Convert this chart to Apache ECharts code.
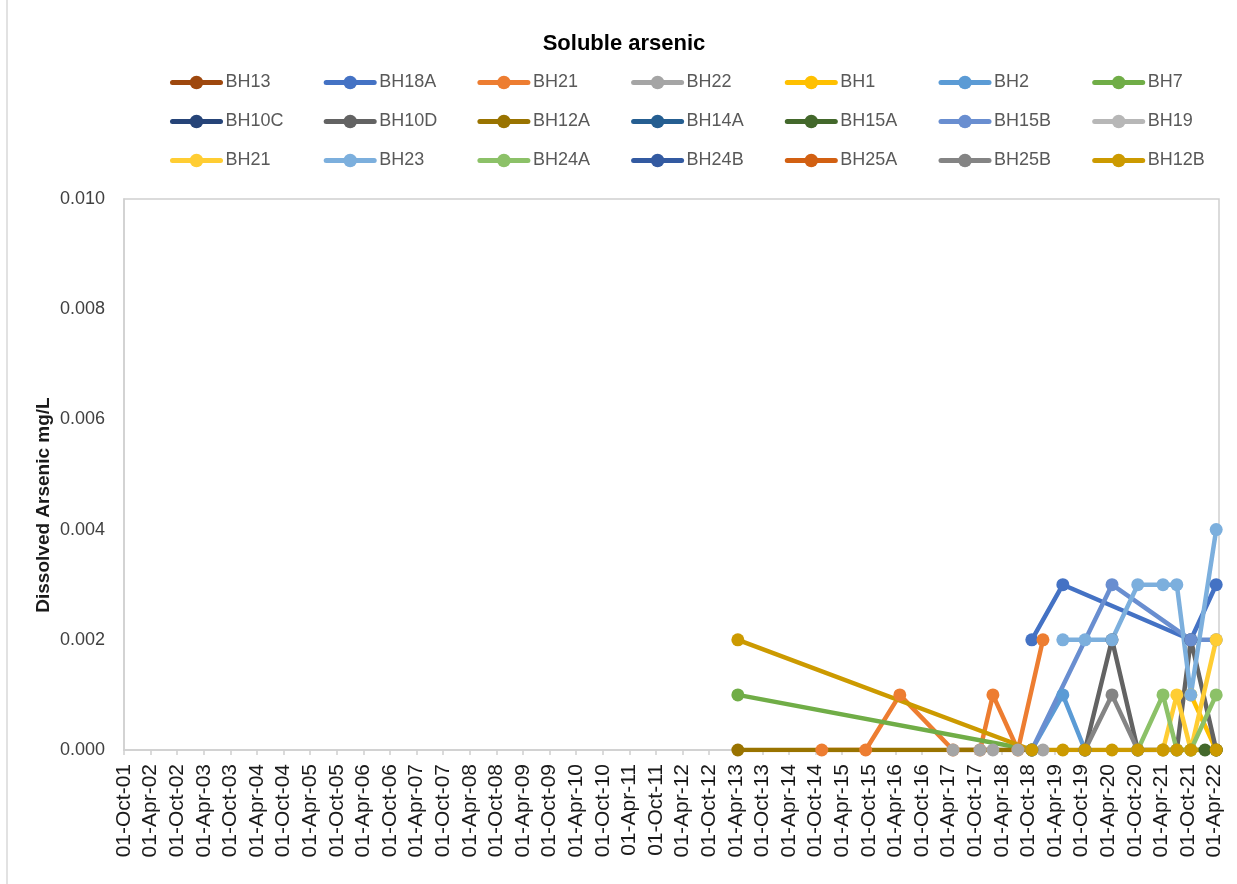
<!DOCTYPE html>
<html>
<head>
<meta charset="utf-8">
<title>Soluble arsenic</title>
<script src="https://cdn.jsdelivr.net/npm/echarts@6/dist/echarts.min.js"></script>
<style>
  html, body { margin: 0; padding: 0; background: #fff; }
  #chart { width: 1237px; height: 884px; }
</style>
</head>
<body>
<div id="chart"></div>
<script>
// Sampling results, dissolved arsenic (mg/L), one pair of arrays per borehole.
// Boreholes with no plotted results keep empty arrays.
const bh13Dates = [];
const bh13Values = [];

const bh18aDates = ['2018-10-25', '2019-05-25', '2021-10-21', '2022-04-12'];
const bh18aValues = [0.002, 0.003, 0.002, 0.003];

const bh21Dates = ['2014-11-13', '2015-09-10', '2016-05-01', '2017-05-01', '2017-11-04', '2018-02-01', '2018-07-21', '2019-01-10'];
const bh21Values = [0, 0, 0.001, 0, 0, 0.001, 0, 0.002];

const bh22Dates = ['2017-05-01', '2017-11-04', '2018-02-01', '2018-07-21', '2019-01-10'];
const bh22Values = [0, 0, 0, 0, 0];

const bh1Dates = ['2021-10-21', '2022-04-12'];
const bh1Values = [0.001, 0];

const bh2Dates = ['2018-10-25', '2019-05-25', '2019-10-25'];
const bh2Values = [0, 0.001, 0];

const bh7Dates = ['2013-04-15', '2018-10-25'];
const bh7Values = [0.001, 0];

const bh10cDates = [];
const bh10cValues = [];

const bh10dDates = ['2019-10-25', '2020-04-27', '2020-10-22', '2021-04-12', '2021-07-16', '2021-10-21', '2022-04-12'];
const bh10dValues = [0, 0.002, 0, 0, 0, 0.002, 0];

const bh12aDates = ['2013-04-15', '2018-10-25'];
const bh12aValues = [0, 0];

const bh14aDates = [];
const bh14aValues = [];

const bh15aDates = ['2021-10-21', '2022-01-27', '2022-04-12'];
const bh15aValues = [0, 0, 0];

const bh15bDates = ['2018-10-25', '2020-04-27', '2021-10-21', '2022-04-12'];
const bh15bValues = [0, 0.003, 0.002, 0.002];

const bh19Dates = [];
const bh19Values = [];

const bh21bDates = ['2021-04-12', '2021-07-16', '2021-10-21', '2022-04-12'];
const bh21bValues = [0, 0.001, 0, 0.002];

const bh23Dates = ['2019-05-25', '2019-10-25', '2020-04-27', '2020-10-22', '2021-04-12', '2021-07-16', '2021-10-21', '2022-04-12'];
const bh23Values = [0.002, 0.002, 0.002, 0.003, 0.003, 0.003, 0.001, 0.004];

const bh24aDates = ['2020-10-22', '2021-04-12', '2021-07-16', '2021-10-21', '2022-04-12'];
const bh24aValues = [0, 0.001, 0, 0, 0.001];

const bh24bDates = [];
const bh24bValues = [];

const bh25aDates = [];
const bh25aValues = [];

const bh25bDates = ['2019-10-25', '2020-04-27', '2020-10-22'];
const bh25bValues = [0, 0.001, 0];

const bh12bDates = ['2013-04-15', '2018-10-25', '2019-05-25', '2019-10-25', '2020-04-27', '2020-10-22', '2021-04-12', '2021-07-16', '2021-10-21', '2022-04-12'];
const bh12bValues = [0.002, 0, 0, 0, 0, 0, 0, 0, 0, 0];

// Legend labels in plotting order (BH21 appears twice, as in the source workbook).
const seriesLabels = ['BH13', 'BH18A', 'BH21', 'BH22', 'BH1', 'BH2', 'BH7',
                      'BH10C', 'BH10D', 'BH12A', 'BH14A', 'BH15A', 'BH15B', 'BH19',
                      'BH21', 'BH23', 'BH24A', 'BH24B', 'BH25A', 'BH25B', 'BH12B'];
const seriesDates = [bh13Dates, bh18aDates, bh21Dates, bh22Dates, bh1Dates, bh2Dates, bh7Dates,
                     bh10cDates, bh10dDates, bh12aDates, bh14aDates, bh15aDates, bh15bDates, bh19Dates,
                     bh21bDates, bh23Dates, bh24aDates, bh24bDates, bh25aDates, bh25bDates, bh12bDates];
const seriesValues = [bh13Values, bh18aValues, bh21Values, bh22Values, bh1Values, bh2Values, bh7Values,
                      bh10cValues, bh10dValues, bh12aValues, bh14aValues, bh15aValues, bh15bValues, bh19Values,
                      bh21bValues, bh23Values, bh24aValues, bh24bValues, bh25aValues, bh25bValues, bh12bValues];

// Office-style palette for the 21 series.
const seriesColors = ['#9E480E', '#4472C4', '#ED7D31', '#A5A5A5', '#FFC000', '#5B9BD5', '#70AD47',
                      '#264478', '#636363', '#997300', '#255E91', '#43682B', '#698ED0', '#B7B7B7',
                      '#FFCD33', '#7CAFDD', '#8CC168', '#335AA1', '#D26012', '#848484', '#CC9A00'];

// Y axis ticks (mg/L) and date axis range, in months counted from 01-Oct-2001.
const yTicks = [0, 0.002, 0.004, 0.006, 0.008, 0.010];
const monthNames = ['Jan', 'Feb', 'Mar', 'Apr', 'May', 'Jun', 'Jul', 'Aug', 'Sep', 'Oct', 'Nov', 'Dec'];
const axisStart = { year: 2001, month: 10 };
const axisEndMonths = 247;
const tickStepMonths = 6;

function toMonths(s) {
  const [y, m, d] = s.split('-').map(Number);
  const dim = new Date(y, m, 0).getDate();
  return (y - axisStart.year) * 12 + (m - axisStart.month) + (d - 1) / dim;
}

function monthLabel(v) {
  const r = Math.round(v);
  if (Math.abs(v - r) > 1e-6 || r % tickStepMonths !== 0) return '';
  const idx = axisStart.month - 1 + r;
  const year = axisStart.year + Math.floor(idx / 12);
  const mon = monthNames[idx % 12];
  return '01-' + mon + '-' + String(year % 100).padStart(2, '0');
}

// Internal series keys must be unique; the legend shows the plain label.
const seriesKeys = seriesLabels.map((l, i) => seriesLabels.indexOf(l) === i ? l : l + '#' + i);

const series = seriesKeys.map((key, i) => ({
  name: key,
  type: 'line',
  data: seriesDates[i].map((d, j) => [toMonths(d), seriesValues[i][j]]),
  symbol: 'circle',
  symbolSize: 13,
  showSymbol: true,
  color: seriesColors[i],
  lineStyle: { width: 4.5, cap: 'round', join: 'round' },
  emphasis: { disabled: true },
  animation: false
}));

// Legend: 3 rows x 7 fixed columns.
const legendRowCenters = [82, 121, 160];
const legendColStart = 170;
const legendColStep = 153.7;
const legendItemHeight = 17;
const legends = seriesKeys.map((key, i) => ({
  data: [key],
  left: legendColStart + (i % 7) * legendColStep,
  top: legendRowCenters[Math.floor(i / 7)] - legendItemHeight / 2,
  padding: 0,
  itemWidth: 48,
  itemHeight: legendItemHeight,
  selectedMode: false,
  lineStyle: { width: 5 },
  formatter: name => name.split('#')[0],
  textStyle: { color: '#595959', fontSize: 18, fontFamily: 'Liberation Sans' }
}));

const chart = echarts.init(document.getElementById('chart'), null, { renderer: 'canvas' });
chart.setOption({
  backgroundColor: '#ffffff',
  animation: false,
  title: {
    text: 'Soluble arsenic',
    left: 624,
    top: 33,
    padding: 0,
    textAlign: 'center',
    textStyle: { color: '#000', fontSize: 22, fontWeight: 'bold', fontFamily: 'Liberation Sans' }
  },
  legend: legends,
  grid: {
    left: 124, top: 199, right: 18, bottom: 134,
    show: true, borderColor: '#D0D0D0', borderWidth: 1.5, backgroundColor: '#fff'
  },
  xAxis: {
    type: 'value',
    min: 0,
    max: axisEndMonths,
    interval: tickStepMonths,
    splitLine: { show: false },
    axisLine: { show: true, onZero: false, lineStyle: { color: '#D0D0D0', width: 1.5 } },
    axisTick: { show: true, length: 5, lineStyle: { color: '#D0D0D0', width: 1.5 } },
    axisLabel: {
      rotate: 90,
      margin: 14,
      showMaxLabel: false,
      formatter: monthLabel,
      color: '#1a1a1a',
      fontSize: 21,
      fontFamily: 'Liberation Sans'
    }
  },
  yAxis: {
    type: 'value',
    min: yTicks[0],
    max: yTicks[yTicks.length - 1],
    interval: yTicks[1] - yTicks[0],
    splitLine: { show: false },
    axisLine: { show: true, lineStyle: { color: '#D0D0D0', width: 1.5 } },
    axisTick: { show: false },
    axisLabel: {
      margin: 19,
      formatter: v => v.toFixed(3),
      color: '#404040',
      fontSize: 18,
      fontFamily: 'Liberation Sans'
    }
  },
  graphic: [{
    type: 'line',
    shape: { x1: 7, y1: 0, x2: 7, y2: 884 },
    style: { stroke: '#D9D9D9', lineWidth: 1.5 },
    silent: true
  }, {
    type: 'text',
    x: 44,
    y: 505,
    rotation: Math.PI / 2,
    silent: true,
    style: {
      text: 'Dissolved Arsenic mg/L',
      fill: '#1a1a1a',
      fontSize: 19,
      fontWeight: 'bold',
      fontFamily: 'Liberation Sans',
      align: 'center',
      verticalAlign: 'middle'
    }
  }],
  series: series
});
</script>
</body>
</html>
